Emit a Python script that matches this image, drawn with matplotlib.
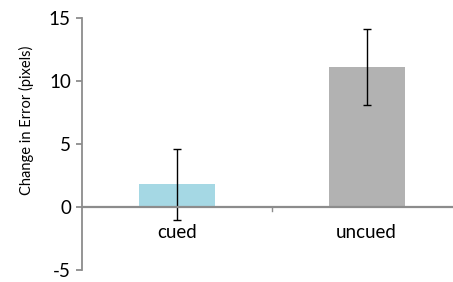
import matplotlib.pyplot as plt

conditions = ['cued', 'uncued']
change_in_error = [1.8, 11.1]
error_sem = [2.8, 3.0]
bar_colors = ['#A5D8E4', '#B2B2B2']
y_ticks = [-5, 0, 5, 10, 15]

plt.rcParams['font.family'] = ['Lato', 'DejaVu Sans']

fig = plt.figure(figsize=(4.53, 2.82), dpi=100)
ax = fig.add_axes([82 / 453, 12 / 282, 371 / 453, 252.3 / 282])

x = range(len(conditions))
ax.bar(x, change_in_error, width=0.4, color=bar_colors, zorder=2)
ax.errorbar(x, change_in_error, yerr=error_sem, fmt='none', ecolor='black',
            elinewidth=1, capsize=3, capthick=1, zorder=3)

ax.set_xlim(-0.5, 1.455)
ax.set_ylim(-5, 15)
ax.set_yticks(y_ticks)
ax.set_yticklabels([str(t) for t in y_ticks], fontsize=13.5)

axis_gray = '#8C8C8C'
for side in ['top', 'right', 'bottom']:
    ax.spines[side].set_visible(False)
ax.spines['left'].set_color(axis_gray)
ax.spines['left'].set_linewidth(1.3)
ax.axhline(0, color=axis_gray, linewidth=1.6, zorder=4)
ax.tick_params(axis='y', color=axis_gray, length=4, width=1.3, pad=4)

# category labels sit just under the zero line
ax.set_xticks([])
for i, name in enumerate(conditions):
    ax.text(i, -1.35, name, ha='center', va='top', fontsize=13.5)
ax.plot([0.5, 0.5], [0, -0.35], color=axis_gray, linewidth=1)

ax.set_ylabel('Change in Error (pixels)', fontsize=10.5)
ax.yaxis.set_label_coords(-0.13, 0.595)

fig.savefig('out.png', dpi=100)
